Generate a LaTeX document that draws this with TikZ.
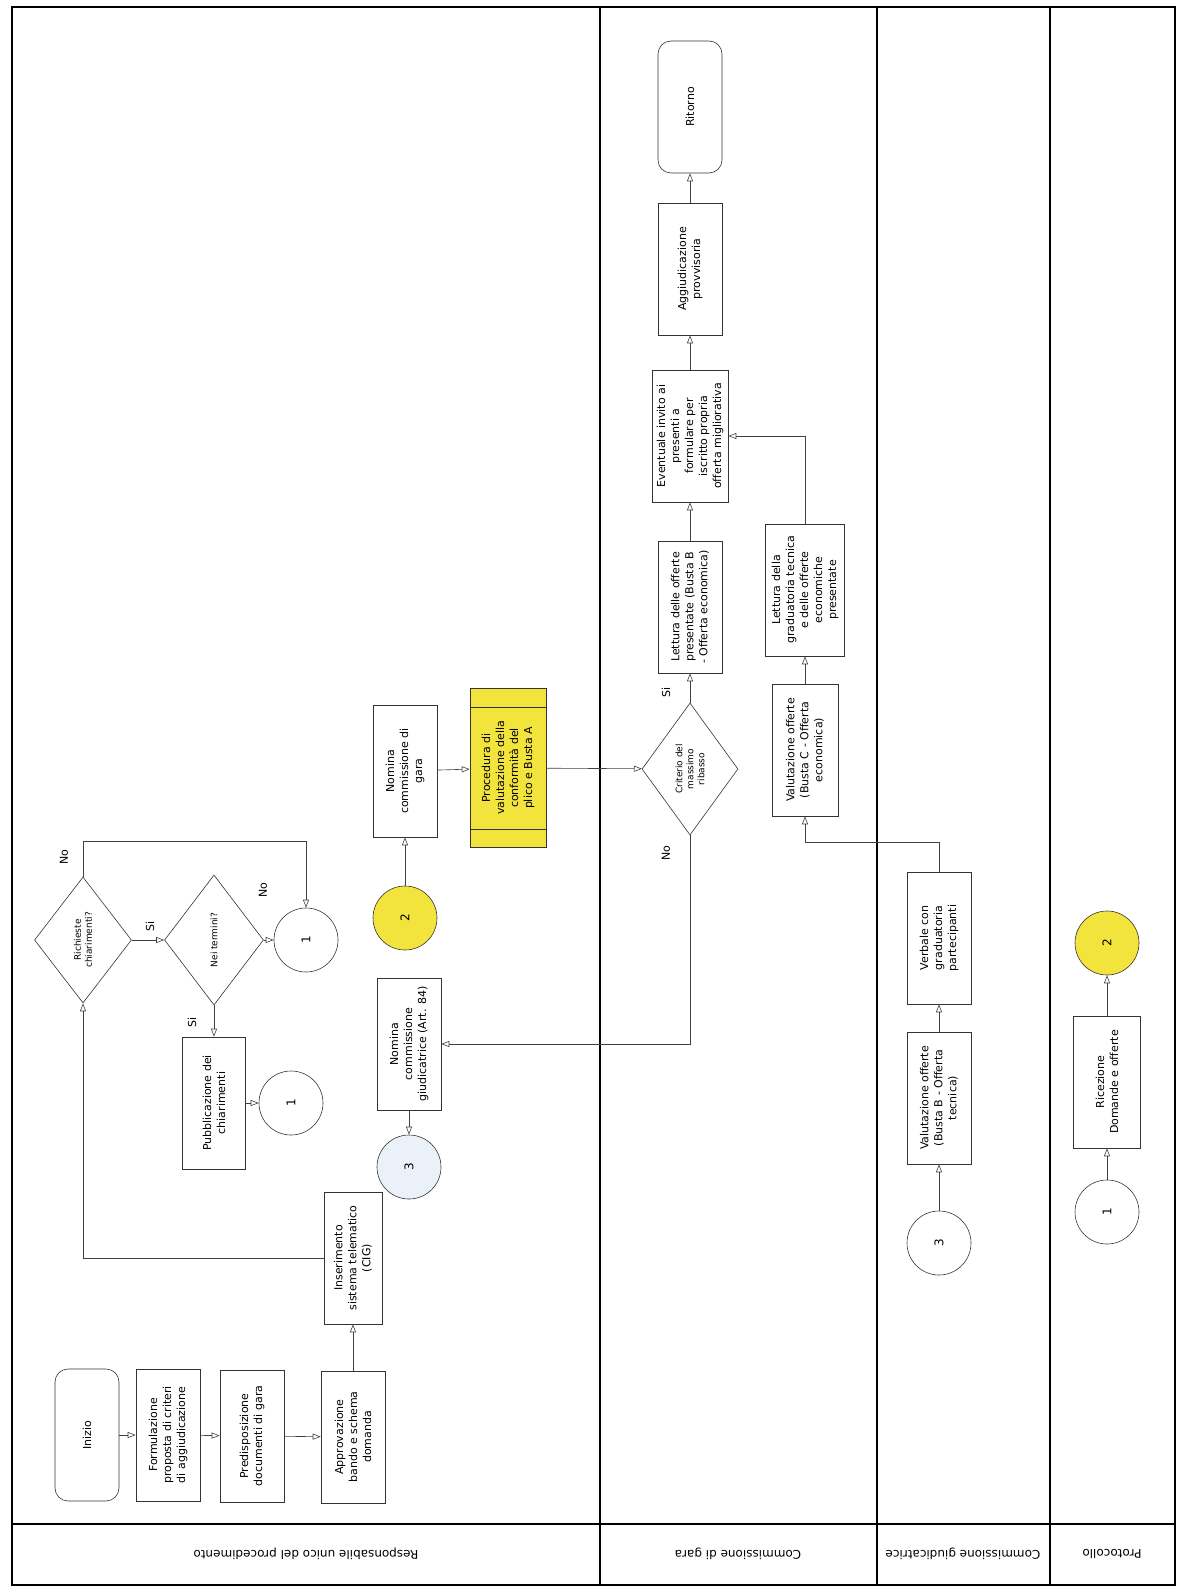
\documentclass[tikz,border=0pt]{standalone}
\usepackage{fontspec}
\setmainfont{DejaVu Sans}
\usetikzlibrary{arrows.meta,shapes.geometric,calc,positioning}
\tikzset{every picture/.style={line width=0.6pt}}
\definecolor{giallo}{RGB}{242,228,60}
\definecolor{azzurrino}{RGB}{234,241,248}

\begin{document}
\begin{tikzpicture}[x=1pt, y=-1pt, font=\fontsize{11}{14}\selectfont,
    box/.style={draw=black!80, rotate=90, minimum width=132pt, minimum height=64pt, inner sep=1.5pt, align=center},
    term/.style={box, rounded corners=13pt},
    dec/.style={draw=black!80, diamond, rotate=90, inner sep=0pt, align=center, font=\fontsize{9}{11}\selectfont},
    conn/.style={draw=black!80, circle, rotate=90, minimum size=64pt, inner sep=0pt, font=\fontsize{12}{14}\selectfont},
    lbl/.style={rotate=90},
    arr/.style={draw=black!75, -{Triangle[open, length=8pt, width=6pt]}},
    lane/.style={line width=1.3pt},
    lanelbl/.style={rotate=180, font=\fontsize{12}{14}\selectfont}]
    \useasboundingbox (0,0) rectangle (1178,1592);

    \draw[lane] (12,7) rectangle (1175,1585);
    \draw[lane] (600,7) -- (600,1585);
    \draw[lane] (877,7) -- (877,1585);
    \draw[lane] (1050,7) -- (1050,1585);
    \draw[lane] (12,1524) -- (1175,1524);

    \node[lanelbl] (lRup) at (306,1554) {Responsabile unico del procedimento};
    \node[lanelbl] (lGara) at (738,1554) {Commissione di gara};
    \node[lanelbl] (lGiud) at (963,1554) {Commissione giudicatrice};
    \node[lanelbl] (lProt) at (1112,1554) {Protocollo};

    \node[term] (inizio) at (87,1435) {Inizio};
    \node[box] (formul) at (168,1435) {Formulazione\\proposta di criteri\\di aggiudicazione};
    \node[box] (predisp) at (252,1436) {Predisposizione\\documenti di gara};
    \node[box] (approv) at (353,1437) {Approvazione\\bando e schema\\domanda};
    \node[box, minimum height=58pt] (inser) at (353,1258) {Inserimento\\sistema telematico\\(CIG)};
    \node[dec, minimum width=126pt, minimum height=97pt] (richiesta) at (83,940) {Richieste\\chiarimenti?};
    \node[dec, minimum width=130pt, minimum height=99pt] (termini) at (214,940) {Nei termini?};
    \node[conn] (uno) at (306,940) {1};
    \node[box, minimum height=63pt] (pubbl) at (214,1103) {Pubblicazione dei\\chiarimenti};
    \node[conn] (unoB) at (291,1103) {1};
    \node[box] (nomGiud) at (409,1044) {Nomina\\commissione\\giudicatrice (Art. 84)};
    \node[conn, fill=azzurrino] (treA) at (409,1167) {3};
    \node[conn, fill=giallo] (dueA) at (405,918) {2};
    \node[box] (nomGara) at (405,771) {Nomina\\commissione di\\gara};
    \node[box, fill=giallo, minimum width=159pt, minimum height=76pt] (proced) at (508,768) {Procedura di\\valutazione della\\conformità del\\plico e Busta A};
    \draw[draw=black!80] ($(proced.east)+(-38,19)$) -- ++(76,0);
    \draw[draw=black!80] ($(proced.west)+(-38,-19)$) -- ++(76,0);

    \node[dec, minimum width=132pt, minimum height=96pt] (criterio) at (690,769) {Criterio del\\massimo\\ribasso};
    \node[box] (letturaB) at (690,607) {Lettura delle offerte\\presentate (Busta B\\- Offerta economica)};
    \node[box, minimum height=76pt] (invito) at (690,436) {Eventuale invito ai\\presenti a\\formulare per\\iscritto propria\\offerta migliorativa};
    \node[box] (aggiud) at (690,269) {Aggiudicazione\\provvisoria};
    \node[term] (ritorno) at (690,107) {Ritorno};
    \node[box, minimum height=66pt] (valC) at (805,750) {Valutazione offerte\\(Busta C - Offerta\\economica)};
    \node[box, minimum height=79pt] (letturaG) at (805,590) {Lettura della\\graduatoria tecnica\\e delle offerte\\economiche\\presentate};

    \node[box] (verbale) at (939,938) {Verbale con\\graduatoria\\partecipanti};
    \node[box] (valB) at (939,1098) {Valutazione offerte\\(Busta B - Offerta\\tecnica)};
    \node[conn] (treB) at (939,1243) {3};

    \node[conn] (unoP) at (1107,1212) {1};
    \node[box, minimum height=67pt] (ricez) at (1107,1082) {Ricezione\\Domande e offerte};
    \node[conn, fill=giallo] (dueP) at (1107,943) {2};

    \node[lbl] (siA) at (150,926) {Si};
    \node[lbl] (noA) at (263,890) {No};
    \node[lbl] (siB) at (192,1022) {Si};
    \node[lbl] (noB) at (64,857) {No};
    \node[lbl] (siC) at (666,692) {Si};
    \node[lbl] (noC) at (666,853) {No};

    \draw[arr] (inizio) -- (formul);
    \draw[arr] (formul) -- (predisp);
    \draw[arr] (predisp) -- (approv);
    \draw[arr] (approv) -- (inser);
    \draw[arr] (inser) -| (richiesta);
    \draw[arr] (richiesta) -- (termini);
    \draw[arr] (termini) -- (uno);
    \draw[arr] (richiesta.east) -- ++(0,-35) -| (uno);
    \draw[arr] (termini) -- (pubbl);
    \draw[arr] (pubbl) -- (unoB);
    \draw[arr] (nomGiud) -- (treA);
    \draw[arr] (dueA) -- (nomGara);
    \draw[arr] (nomGara) -- (proced);
    \draw[arr] (proced) -- (criterio);
    \draw[arr] (criterio) -- (letturaB);
    \draw[arr] (criterio) |- (nomGiud);
    \draw[arr] (letturaB) -- (invito);
    \draw[arr] (invito) -- (aggiud);
    \draw[arr] (aggiud) -- (ritorno);
    \draw[arr] (valC) -- (letturaG);
    \draw[arr] (letturaG) |- (invito);
    \draw[arr] (treB) -- (valB);
    \draw[arr] (valB) -- (verbale);
    \draw[arr] (verbale.east) -- ++(0,-29) -| (valC);
    \draw[arr] (unoP) -- (ricez);
    \draw[arr] (ricez) -- (dueP);
\end{tikzpicture}
\end{document}
